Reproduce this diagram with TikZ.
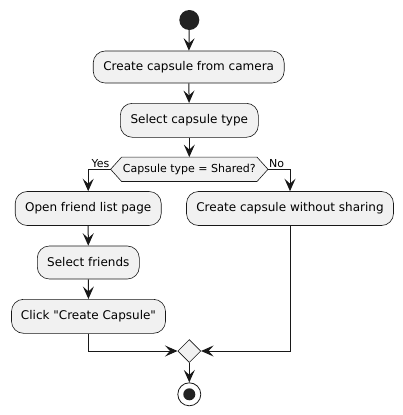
\documentclass[tikz,border=0pt]{standalone}
\usepackage{fontspec}
\setmainfont{DejaVu Sans}[Ligatures=TeXOff]
\usetikzlibrary{arrows.meta,calc,shapes.geometric}
\definecolor{lineC}{HTML}{181818}
\definecolor{boxF}{HTML}{F1F1F1}
\definecolor{dotC}{HTML}{222222}
\tikzset{
  act/.style={draw=lineC, line width=0.6pt, fill=boxF, rounded corners=12pt, inner sep=0pt, font=\fontsize{12}{14}\selectfont, text=black},
  conn/.style={draw=lineC, line width=1pt, -{Stealth[length=12.5pt,width=11pt,inset=5pt]}},
  lbl/.style={font=\fontsize{11}{13}\selectfont, text=black, inner sep=0pt},
  decbox/.style={inner sep=0pt, minimum width=157pt, minimum height=24pt, font=\fontsize{11}{13}\selectfont, text=black}
}
\begin{document}
\begin{tikzpicture}[x=1pt,y=-1pt]
\useasboundingbox (0,0) rectangle (403,415);
\node[circle, fill=dotC, minimum size=20pt, inner sep=0pt] (start) at (189.3,20) {};
\node[act, minimum width=191pt, minimum height=32pt] (b1) at (188.7,67) {Create capsule from camera};
\node[act, minimum width=138pt, minimum height=34pt] (b2) at (189.3,120.3) {Select capsule type};
\node[decbox] (dec) at (189.3,169.3) {};
\draw[draw=lineC, line width=0.6pt, fill=boxF] (dec.west) -- ([xshift=11pt]dec.north west) -- ([xshift=-11pt]dec.north east) -- (dec.east) -- ([xshift=-11pt]dec.south east) -- ([xshift=11pt]dec.south west) -- cycle;
\node[decbox] (dectext) at (189.3,169.3) {Capsule type = Shared?};
\node[act, minimum width=146pt, minimum height=34pt] (open) at (88.2,208.5) {Open friend list page};
\node[act, minimum width=207pt, minimum height=34pt] (nos) at (290,208.5) {Create capsule without sharing};
\node[act, minimum width=102pt, minimum height=33pt] (sel) at (88.3,262.5) {Select friends};
\node[act, minimum width=154pt, minimum height=34pt] (click) at (88.5,316.3) {Click "Create Capsule"};
\node[diamond, draw=lineC, line width=0.6pt, fill=boxF, minimum size=23pt, inner sep=0pt, shape aspect=1] (merge) at (189.3,351) {};
\node[circle, draw=lineC, line width=0.8pt, fill=white, minimum size=23pt, inner sep=0pt] (end) at (189.3,394.3) {};
\node[circle, fill=dotC, minimum size=12pt, inner sep=0pt] (endin) at (189.3,394.3) {};
\draw[conn] (start) -- (b1);
\draw[conn] (b1) -- (b2);
\draw[conn] (b2) -- (dec.north);
\draw[conn] (dec.west) -| (open.north);
\draw[conn] (dec.east) -| (nos.north);
\node[lbl, anchor=south east] (yes) at ([xshift=-1pt,yshift=1pt]dec.west) {Yes};
\node[lbl, anchor=south west] (no) at ([xshift=1pt,yshift=1pt]dec.east) {No};
\draw[conn] (open) -- (sel);
\draw[conn] (sel) -- (click);
\draw[conn] (click.south) |- (merge.west);
\draw[conn] (nos.south) |- (merge.east);
\draw[conn] (merge) -- (end);
\end{tikzpicture}
\end{document}
